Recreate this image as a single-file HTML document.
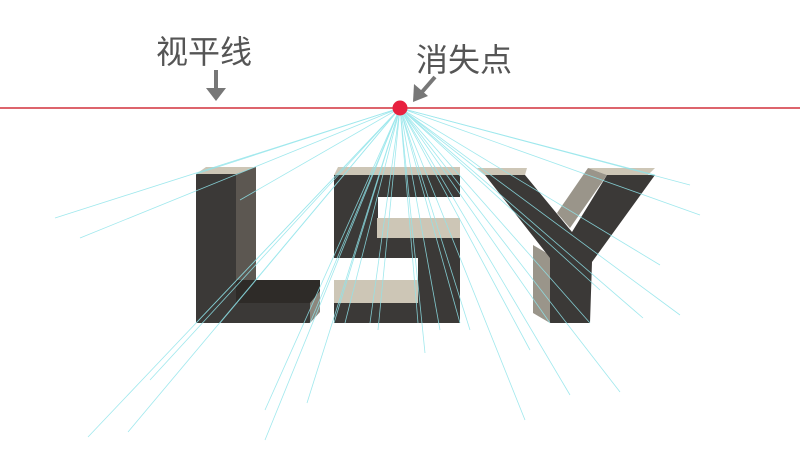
<!DOCTYPE html>
<html><head><meta charset="utf-8"><style>
html,body{margin:0;padding:0;background:#fff;width:800px;height:475px;overflow:hidden}
</style></head><body>
<svg width="800" height="475" viewBox="0 0 800 475" xmlns="http://www.w3.org/2000/svg">
<rect width="800" height="475" fill="#fff"/>
<!-- L -->
<polygon points="206,167 256,167 236,174 196,174" fill="#cdc6b6"/>
<polygon points="236,174 256,167 256,283 236,290" fill="#5c5751"/>
<rect x="196" y="174" width="40" height="149" fill="#3b3937"/>
<polygon points="236,280 320,280 320,303 236,303" fill="#2e2b28"/>
<rect x="196" y="303" width="114" height="20" fill="#3b3937"/>
<polygon points="310,303 320,291 320,312 310,323" fill="#8c877d"/>
<!-- 5 -->
<polygon points="338,167 460,167 460,175 334,175" fill="#cdc6b6"/>
<rect x="334" y="175" width="126" height="22" fill="#3b3937"/>
<rect x="334" y="197" width="44" height="61" fill="#3b3937"/>
<rect x="377" y="218" width="83" height="20" fill="#cdc6b6"/>
<rect x="334" y="238" width="126" height="20" fill="#3b3937"/>
<rect x="418" y="258" width="42" height="65" fill="#3b3937"/>
<rect x="334" y="280" width="84" height="23" fill="#cdc6b6"/>
<rect x="334" y="303" width="84" height="20" fill="#3b3937"/>
<!-- Y -->
<polygon points="477,168 527,168 525,175 485,175" fill="#cdc6b6"/>
<polygon points="588,168 655,168 648,175 607,175" fill="#cdc6b6"/>
<polygon points="557,213 588,168 607,175 570,228" fill="#9a958a"/>
<polygon points="533,245 550,255 550,323 533,313" fill="#9a958a"/>
<polygon points="485,175 525,175 572,232 607,175 655,175 592,262 590,323 550,323 550,258" fill="#3b3937"/>
<!-- rays -->
<g stroke="#8fe4ea" stroke-width="0.8" fill="none" opacity="0.85">
<line x1="400" y1="108" x2="88" y2="437"/><line x1="400" y1="108" x2="128" y2="432"/>
<line x1="400" y1="108" x2="265" y2="410"/><line x1="400" y1="108" x2="307" y2="403"/>
<line x1="400" y1="108" x2="265" y2="440"/><line x1="400" y1="108" x2="425" y2="353"/>
<line x1="400" y1="108" x2="525" y2="420"/><line x1="400" y1="108" x2="570" y2="395"/>
<line x1="400" y1="108" x2="620" y2="392"/><line x1="400" y1="108" x2="643" y2="318"/>
<line x1="400" y1="108" x2="680" y2="315"/><line x1="400" y1="108" x2="55" y2="218"/>
<line x1="400" y1="108" x2="80" y2="238"/><line x1="400" y1="108" x2="196" y2="174"/>
<line x1="400" y1="108" x2="196" y2="323"/><line x1="400" y1="108" x2="220" y2="323"/>
<line x1="400" y1="108" x2="310" y2="323"/><line x1="400" y1="108" x2="334" y2="323"/>
<line x1="400" y1="108" x2="345" y2="323"/><line x1="400" y1="108" x2="370" y2="323"/>
<line x1="400" y1="108" x2="418" y2="323"/><line x1="400" y1="108" x2="460" y2="323"/>
<line x1="400" y1="108" x2="530" y2="350"/><line x1="400" y1="108" x2="550" y2="323"/>
<line x1="400" y1="108" x2="590" y2="323"/><line x1="400" y1="108" x2="690" y2="185"/>
<line x1="400" y1="108" x2="700" y2="215"/><line x1="400" y1="108" x2="660" y2="265"/>
<line x1="400" y1="108" x2="470" y2="330"/><line x1="400" y1="108" x2="485" y2="175"/>
<line x1="400" y1="108" x2="655" y2="175"/><line x1="400" y1="108" x2="600" y2="290"/>
<line x1="400" y1="108" x2="240" y2="200"/><line x1="400" y1="108" x2="150" y2="380"/>
<line x1="400" y1="108" x2="378" y2="330"/><line x1="400" y1="108" x2="440" y2="330"/>
</g>
<!-- horizon -->
<line x1="0" y1="108" x2="800" y2="108" stroke="#d2303c" stroke-width="1.5"/>
<circle cx="400" cy="108" r="7.5" fill="#e8203f"/>
<!-- labels -->
<text x="156" y="63" font-family="Liberation Sans,'Noto Sans CJK SC',sans-serif" font-size="32" fill="#555">视平线</text>
<text x="416" y="71" font-family="Liberation Sans,'Noto Sans CJK SC',sans-serif" font-size="32" fill="#555">消失点</text>
<line x1="216" y1="70" x2="216" y2="90" stroke="#777" stroke-width="4"/>
<polygon points="206,88 226,88 216,101" fill="#777"/>
<line x1="435" y1="77" x2="422" y2="92" stroke="#777" stroke-width="4"/>
<polygon points="414,84 428,96 413,102" fill="#777"/>
</svg>
</body></html>
